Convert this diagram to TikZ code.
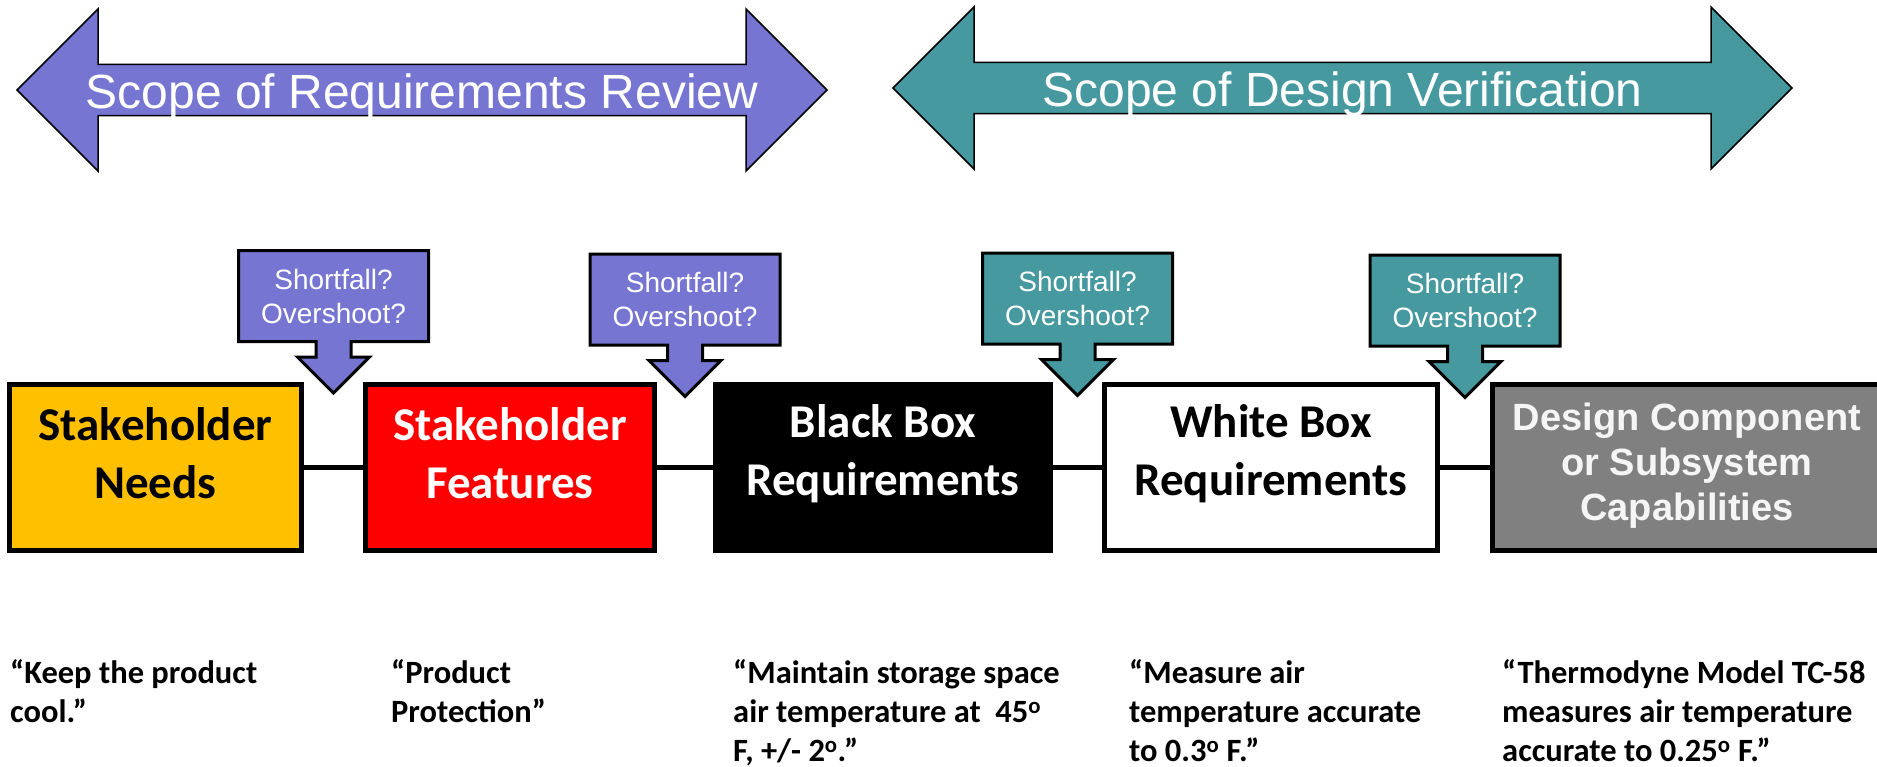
\documentclass[tikz,border=0pt]{standalone}
\usepackage{fontspec}
\setmainfont{Carlito}
\newfontfamily\arialfont{Liberation Sans}
\usetikzlibrary{shapes.arrows,positioning,calc}
\definecolor{reviewblue}{RGB}{118,118,210}
\definecolor{verifyteal}{RGB}{71,153,160}
\definecolor{needsyellow}{RGB}{255,192,0}
\definecolor{featred}{RGB}{255,0,0}
\definecolor{capgray}{RGB}{128,128,128}

\begin{document}
\begin{tikzpicture}[
        x=1pt, y=-1pt,
        box/.style={rectangle, draw=black, line width=5pt, outer sep=0pt, minimum height=166pt},
        boxtext/.style={align=center, yshift=14pt, font=\fontsize{47pt}{58pt}\selectfont\bfseries},
        link/.style={draw=black, line width=5pt},
        scopearrow/.style={double arrow, draw=black, line width=1.5pt, double arrow tip angle=90, double arrow head extend=40.5pt, minimum width=162pt, inner sep=0pt, text height=36pt, text depth=0pt, text=white, font=\arialfont\fontsize{48pt}{58pt}\selectfont},
        callout/.style={arrow box, draw=black, line width=3pt, arrow box arrows={south:50pt}, arrow box shaft width=35pt, arrow box head extend=18.5pt, arrow box tip angle=90, minimum width=190pt, minimum height=91pt, inner sep=0pt, align=center, text=white, font=\arialfont\fontsize{28pt}{34pt}\selectfont},
        note/.style={anchor=north west, inner sep=0pt, align=left, font=\fontsize{32.5pt}{39pt}\selectfont\bfseries, execute at begin node={\strut}}
    ]
        \useasboundingbox (0,0) rectangle (1877,766);

        % Scope arrows
        \node[scopearrow, fill=reviewblue, minimum height=810pt] (review) at (422,90) {Scope of Requirements Review};
        \node[scopearrow, fill=verifyteal, minimum height=899pt] (verify) at (1342.5,88) {Scope of Design Verification};

        % Nodes
        \node[box, fill=needsyellow, minimum width=292pt, label={[boxtext]center:Stakeholder\\Needs}] (needs) at (155.5,467.5) {};
        \node[box, fill=featred, minimum width=289pt, right=64pt of needs, label={[boxtext, text=white]center:Stakeholder\\Features}] (features) {};
        \node[box, fill=black, minimum width=335pt, right=61pt of features, label={[boxtext, text=white]center:Black Box\\Requirements}] (blackbox) {};
        \node[box, fill=white, minimum width=333pt, right=54pt of blackbox, label={[boxtext]center:White Box\\Requirements}] (whitebox) {};
        \node[box, fill=capgray, minimum width=389pt, right=55pt of whitebox, label={[boxtext, yshift=-12pt, text=gray!8, font=\arialfont\fontsize{38pt}{45pt}\selectfont\bfseries]center:Design Component\\or Subsystem\\Capabilities}] (capab) {};

        % Links
        \draw[link] (needs) -- (features);
        \draw[link] (features) -- (blackbox);
        \draw[link] (blackbox) -- (whitebox);
        \draw[link] (whitebox) -- (capab);

        % Callouts
        \node[callout, fill=reviewblue] (gapone) at ($(needs.east)!0.5!(features.west) + (0,-171.5)$) {Shortfall?\\Overshoot?};
        \node[callout, fill=reviewblue] (gaptwo) at ($(features.east)!0.5!(blackbox.west) + (0,-168)$) {Shortfall?\\Overshoot?};
        \node[callout, fill=verifyteal] (gapthree) at ($(blackbox.east)!0.5!(whitebox.west) + (0,-169)$) {Shortfall?\\Overshoot?};
        \node[callout, fill=verifyteal] (gapfour) at ($(whitebox.east)!0.5!(capab.west) + (0,-167)$) {Shortfall?\\Overshoot?};

        % Labels
        \node[note] (qneeds) at (10,659) {“Keep the product\\cool.”};
        \node[note] (qfeatures) at (391,659) {“Product\\Protection”};
        \node[note] (qblackbox) at (733,659) {“Maintain storage space\\air temperature at~ 45\textsuperscript{o}\\F, +/- 2\textsuperscript{o}.”};
        \node[note] (qwhitebox) at (1129,659) {“Measure air\\temperature accurate\\to 0.3\textsuperscript{o} F.”};
        \node[note] (qcapab) at (1502,659) {“Thermodyne Model TC-58\\measures air temperature\\accurate to 0.25\textsuperscript{o} F.”};

    \end{tikzpicture}
\end{document}
